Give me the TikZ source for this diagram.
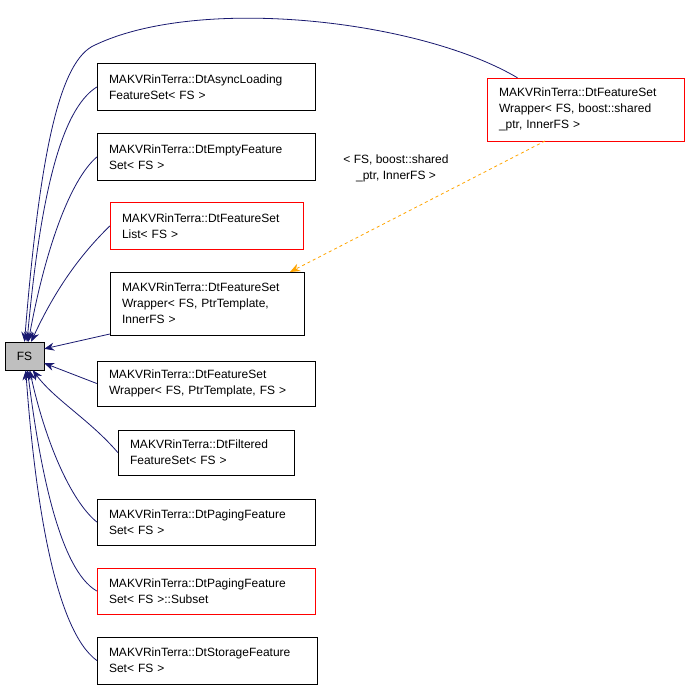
\documentclass[tikz,border=0pt]{standalone}
\usepackage{fontspec}
\setmainfont{Liberation Sans}
\usetikzlibrary{arrows.meta}
\definecolor{edgeblue}{RGB}{25,25,112}
\definecolor{tmplorange}{RGB}{255,165,0}
\tikzset{
  cls/.style={draw=black, fill=white, align=left, inner xsep=12pt, inner ysep=0pt, text width=#1, font=\fontsize{12}{16}\selectfont},
  cls/.default=194pt,
  redcls/.style={cls=#1, draw=red},
  redcls/.default=194pt,
  inh/.style={edgeblue, line width=0.8pt, {Stealth[length=10pt,width=8pt]}-},
  tmpl/.style={tmplorange, dashed, line width=0.8pt, -{Stealth[length=10pt,width=8pt]}}
}
\begin{document}
\begin{tikzpicture}[x=1pt, y=-1pt]
  \fill[white] (0,0) rectangle (691,689);
  \useasboundingbox (0,0) rectangle (691,689);
  \node[draw, fill=black!25, minimum width=39pt, minimum height=28pt, inner sep=0pt, font=\fontsize{12}{16}\selectfont] (FS) at (24.5,356) {FS};
  \node[cls=194pt, minimum height=47pt] (N1) at (206,87) {MAKVRinTerra::DtAsyncLoading\\FeatureSet< FS >};
  \node[cls=194pt, minimum height=47pt] (N2) at (206,157) {MAKVRinTerra::DtEmptyFeature\\Set< FS >};
  \node[redcls=169pt, minimum height=47pt] (N3) at (206.5,226) {MAKVRinTerra::DtFeatureSet\\List< FS >};
  \node[cls=170pt, minimum height=63pt] (N4) at (207,303.5) {MAKVRinTerra::DtFeatureSet\\Wrapper< FS, PtrTemplate,\\ InnerFS >};
  \node[cls=194pt, minimum height=45pt] (N5) at (206,383.5) {MAKVRinTerra::DtFeatureSet\\Wrapper< FS, PtrTemplate, FS >};
  \node[cls=152pt, minimum height=45pt] (N6) at (206,452.5) {MAKVRinTerra::DtFiltered\\FeatureSet< FS >};
  \node[cls=194pt, minimum height=46pt] (N7) at (206,522) {MAKVRinTerra::DtPagingFeature\\Set< FS >};
  \node[redcls=194pt, minimum height=46pt] (N8) at (206,591) {MAKVRinTerra::DtPagingFeature\\Set< FS >::Subset};
  \node[cls=196pt, minimum height=47pt] (N9) at (207,660.5) {MAKVRinTerra::DtStorageFeature\\Set< FS >};
  \node[redcls=173pt, minimum height=63pt] (R) at (585.5,109.5) {MAKVRinTerra::DtFeatureSet\\Wrapper< FS, boost::shared\\\_ptr, InnerFS >};
  \node[align=center, font=\fontsize{12}{16}\selectfont] (lbl) at (396,168) {< FS, boost::shared\\\_ptr, InnerFS >};
  % inheritance edges
  \draw[inh] (FS.north) .. controls (40,150) and (60,60) .. (95,45) .. controls (200,-5) and (420,20) .. (R.155);
  \draw[inh] (FS.80) .. controls (40,200) and (60,110) .. (N1.west);
  \draw[inh] (FS.75) .. controls (45,250) and (70,180) .. (N2.west);
  \draw[inh] (FS.65) .. controls (55,290) and (80,255) .. (N3.west);
  \draw[inh] (FS.20) -- (N4.west |- 0,334);
  \draw[inh] (FS.-20) -- (N5.west);
  \draw[inh] (FS.-60) .. controls (55,400) and (90,420) .. (N6.west);
  \draw[inh] (FS.-70) .. controls (45,440) and (70,500) .. (N7.west);
  \draw[inh] (FS.-78) .. controls (40,470) and (60,570) .. (N8.west);
  \draw[inh] (FS.-85) .. controls (35,500) and (55,630) .. (N9.west);
  % template edge
  \coordinate (rs) at (545,141);
  \coordinate (nt) at (290,272);
  \draw[tmpl] (rs) -- (nt);
\end{tikzpicture}
\end{document}
